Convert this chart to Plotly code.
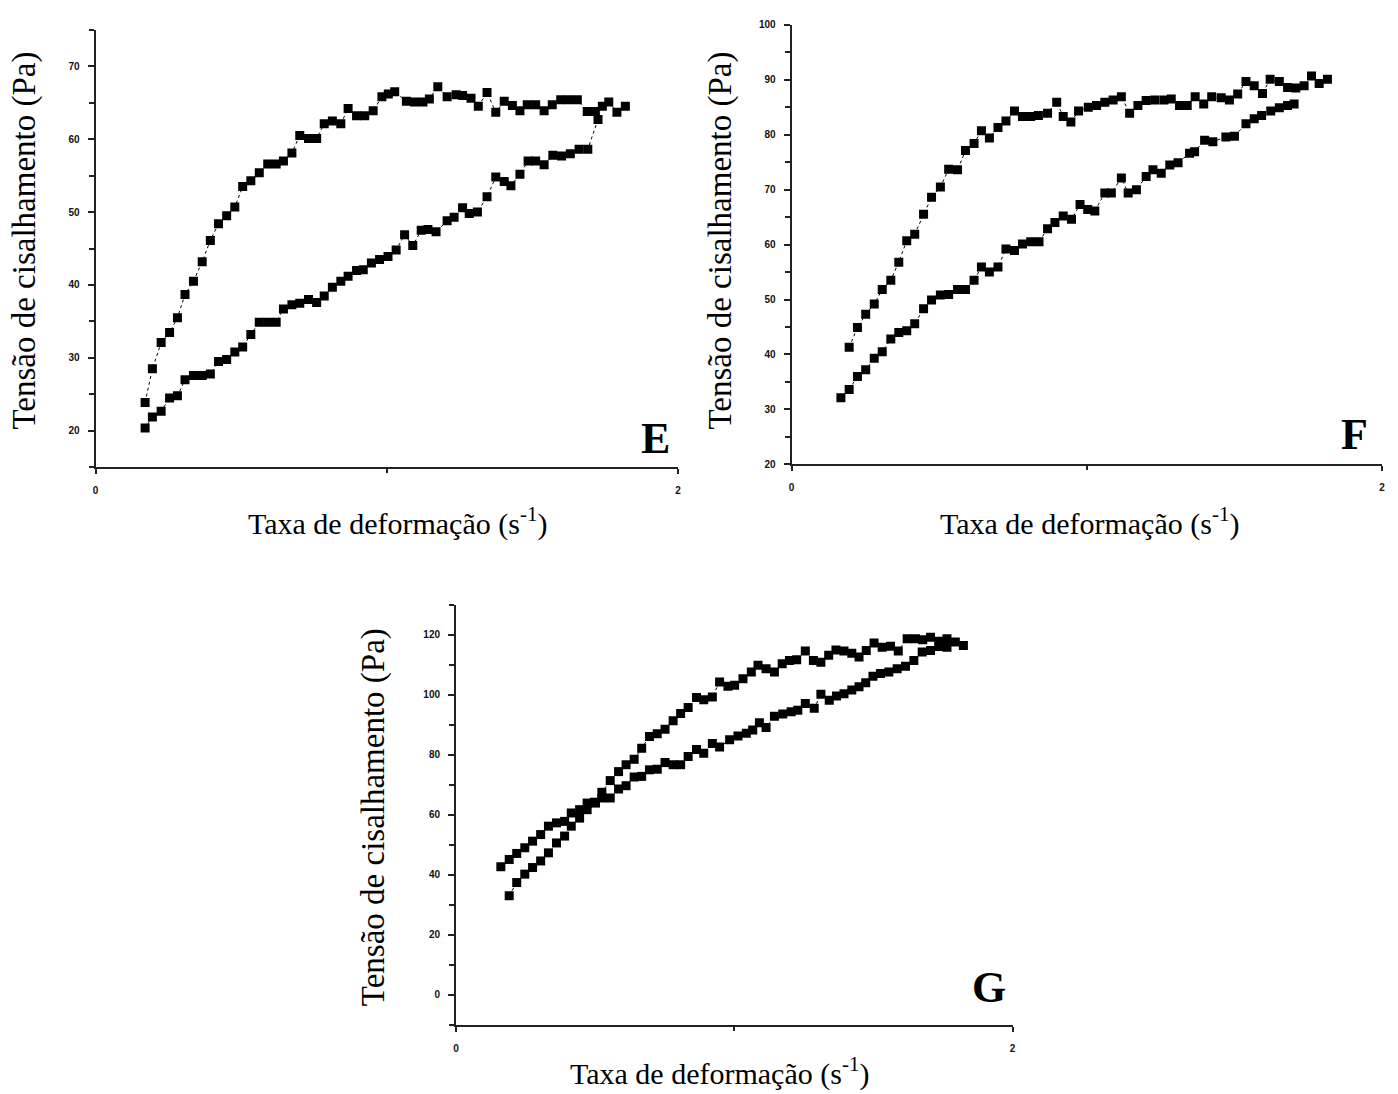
import plotly.graph_objects as go

# ---------------- Panel E ----------------
e_up_x = [0.170, 0.195, 0.225, 0.254, 0.281, 0.307, 0.336, 0.366, 0.394, 0.422,
          0.450, 0.478, 0.505, 0.533, 0.562, 0.591, 0.620, 0.645, 0.674, 0.701,
          0.731, 0.759, 0.785, 0.813, 0.842, 0.867, 0.896, 0.924, 0.953, 0.983,
          1.005, 1.027, 1.067, 1.095, 1.124, 1.146, 1.175, 1.207, 1.238, 1.260,
          1.289, 1.314, 1.344, 1.374, 1.403, 1.431, 1.457, 1.482, 1.511, 1.540,
          1.568, 1.597, 1.625, 1.654, 1.688, 1.716, 1.740, 1.762, 1.790, 1.819]
e_up_y = [23.9, 28.5, 32.1, 33.5, 35.5, 38.7, 40.5, 43.2, 46.1, 48.4,
          49.5, 50.7, 53.5, 54.3, 55.4, 56.6, 56.6, 57.0, 58.1, 60.5,
          60.1, 60.1, 62.1, 62.5, 62.1, 64.2, 63.2, 63.2, 63.9, 65.8,
          66.2, 66.5, 65.2, 65.1, 65.1, 65.5, 67.2, 65.8, 66.1, 66.0,
          65.6, 64.5, 66.4, 63.7, 65.2, 64.6, 63.9, 64.7, 64.7, 63.9,
          64.7, 65.4, 65.4, 65.4, 63.8, 63.8, 64.5, 65.1, 63.7, 64.5]
e_down_x = [1.725, 1.690, 1.660, 1.630, 1.600, 1.570, 1.540, 1.511, 1.485, 1.457,
            1.426, 1.403, 1.374, 1.344, 1.311, 1.283, 1.260, 1.231, 1.207, 1.169,
            1.141, 1.118, 1.089, 1.061, 1.032, 1.004, 0.975, 0.947, 0.919, 0.896,
            0.867, 0.842, 0.813, 0.785, 0.759, 0.731, 0.701, 0.674, 0.645, 0.620,
            0.591, 0.562, 0.533, 0.505, 0.478, 0.450, 0.422, 0.394, 0.366, 0.336,
            0.307, 0.281, 0.254, 0.225, 0.195, 0.170]
e_down_y = [62.7, 58.6, 58.6, 58.0, 57.7, 57.8, 56.5, 57.0, 57.0, 55.2,
            53.6, 54.2, 54.8, 52.1, 50.0, 49.8, 50.6, 49.3, 48.8, 47.3,
            47.6, 47.5, 45.4, 46.9, 44.8, 43.9, 43.5, 43.0, 42.1, 42.0,
            41.2, 40.5, 39.7, 38.5, 37.6, 38.0, 37.5, 37.3, 36.7, 34.9,
            34.9, 34.9, 33.2, 31.5, 30.8, 29.8, 29.5, 27.8, 27.6, 27.6,
            27.0, 24.8, 24.5, 22.7, 21.9, 20.4]

# ---------------- Panel F ----------------
f_up_x = [0.195, 0.223, 0.251, 0.280, 0.307, 0.336, 0.363, 0.390, 0.417, 0.447,
          0.474, 0.504, 0.532, 0.562, 0.589, 0.618, 0.643, 0.670, 0.699, 0.726,
          0.755, 0.782, 0.810, 0.836, 0.867, 0.898, 0.920, 0.946, 0.972, 1.005,
          1.033, 1.061, 1.089, 1.117, 1.145, 1.173, 1.201, 1.230, 1.261, 1.286,
          1.314, 1.340, 1.367, 1.396, 1.423, 1.455, 1.483, 1.511, 1.539, 1.567,
          1.595, 1.621, 1.652, 1.680, 1.708, 1.736, 1.761, 1.787, 1.815]
f_up_y = [41.3, 44.9, 47.3, 49.2, 51.8, 53.5, 56.8, 60.7, 61.9, 65.5,
          68.6, 70.5, 73.7, 73.6, 77.1, 78.4, 80.7, 79.4, 81.3, 82.5,
          84.3, 83.3, 83.3, 83.5, 83.9, 85.9, 83.3, 82.3, 84.3, 85.0,
          85.3, 85.9, 86.3, 86.9, 83.9, 85.3, 86.2, 86.3, 86.3, 86.5,
          85.3, 85.3, 86.9, 85.6, 86.9, 86.7, 86.3, 87.4, 89.7, 88.9,
          87.5, 90.1, 89.7, 88.6, 88.5, 88.9, 90.7, 89.3, 90.1]
f_down_x = [1.702, 1.680, 1.652, 1.623, 1.592, 1.567, 1.539, 1.500, 1.471, 1.427,
            1.399, 1.365, 1.348, 1.309, 1.281, 1.252, 1.224, 1.201, 1.168, 1.140,
            1.117, 1.083, 1.061, 1.027, 1.003, 0.977, 0.948, 0.920, 0.892, 0.867,
            0.838, 0.810, 0.782, 0.755, 0.726, 0.699, 0.670, 0.643, 0.618, 0.589,
            0.562, 0.532, 0.504, 0.474, 0.447, 0.417, 0.390, 0.363, 0.336, 0.307,
            0.280, 0.251, 0.223, 0.195, 0.167]
f_down_y = [85.6, 85.3, 84.9, 84.3, 83.5, 82.9, 82.0, 79.7, 79.6, 78.7,
            79.0, 76.9, 76.6, 74.9, 74.5, 73.0, 73.6, 72.4, 70.0, 69.4,
            72.1, 69.4, 69.4, 66.1, 66.4, 67.3, 64.6, 65.2, 64.0, 62.9,
            60.5, 60.5, 60.1, 58.9, 59.2, 55.9, 55.0, 55.9, 53.5, 51.8,
            51.8, 50.9, 50.8, 49.9, 48.3, 45.6, 44.3, 44.0, 42.8, 40.5,
            39.3, 37.2, 36.0, 33.6, 32.1]

# ---------------- Panel G ----------------
g_up_x = [0.191, 0.218, 0.247, 0.275, 0.304, 0.332, 0.361, 0.390, 0.414, 0.444,
          0.471, 0.497, 0.524, 0.554, 0.584, 0.611, 0.640, 0.667, 0.695, 0.723,
          0.751, 0.780, 0.807, 0.834, 0.864, 0.890, 0.921, 0.947, 0.977, 1.001,
          1.031, 1.061, 1.085, 1.114, 1.144, 1.172, 1.198, 1.224, 1.255, 1.284,
          1.311, 1.339, 1.365, 1.394, 1.422, 1.448, 1.474, 1.502, 1.531, 1.561,
          1.589, 1.621, 1.651, 1.677, 1.705, 1.735, 1.764, 1.794, 1.823]
g_up_y = [33.0, 37.4, 40.2, 42.4, 44.6, 47.3, 50.6, 52.9, 56.2, 58.9,
          61.7, 64.2, 67.5, 71.4, 74.4, 76.7, 78.5, 82.2, 86.1, 87.0,
          88.5, 91.4, 93.8, 95.8, 99.1, 98.4, 99.3, 104.3, 102.9, 103.2,
          105.4, 107.6, 109.9, 108.7, 107.6, 110.4, 111.5, 111.7, 114.6, 111.5,
          110.9, 113.2, 115.0, 114.6, 113.9, 112.6, 114.8, 117.3, 115.9, 116.2,
          114.6, 118.7, 118.7, 118.4, 119.2, 117.9, 118.7, 117.6, 116.5]
g_down_x = [1.764, 1.735, 1.705, 1.675, 1.645, 1.615, 1.585, 1.555, 1.525, 1.498,
            1.472, 1.448, 1.422, 1.394, 1.367, 1.341, 1.311, 1.287, 1.255, 1.228,
            1.204, 1.174, 1.144, 1.114, 1.090, 1.066, 1.043, 1.013, 0.983, 0.947,
            0.921, 0.890, 0.864, 0.834, 0.807, 0.780, 0.751, 0.723, 0.695, 0.667,
            0.640, 0.611, 0.584, 0.554, 0.524, 0.501, 0.471, 0.444, 0.414, 0.390,
            0.361, 0.332, 0.304, 0.275, 0.247, 0.218, 0.191, 0.161]
g_down_y = [115.9, 116.1, 114.8, 114.3, 111.5, 109.5, 108.7, 107.6, 107.1, 106.2,
            104.0, 102.7, 101.6, 100.4, 99.6, 98.2, 100.2, 95.5, 97.1, 94.9,
            94.4, 93.6, 92.9, 89.1, 90.7, 88.3, 87.2, 86.3, 85.0, 82.6,
            83.8, 80.5, 81.8, 79.4, 76.7, 76.7, 77.4, 75.2, 75.0, 72.8,
            72.6, 69.7, 68.6, 65.6, 65.6, 63.9, 63.9, 61.7, 60.6, 57.8,
            57.3, 56.2, 53.4, 51.2, 49.0, 47.1, 45.1, 42.7]

# tick settings per panel
e_yticks = [20, 30, 40, 50, 60, 70]
f_yticks = [20, 30, 40, 50, 60, 70, 80, 90, 100]
g_yticks = [0, 20, 40, 60, 80, 100, 120]
x_ticks = [0, 2]
x_ticklabels = ["0", "2"]

y_title = "Tensão de cisalhamento (Pa)"
x_title = "Taxa de deformação (s<sup>-1</sup>)"
panel_letters = ["E", "F", "G"]

W, H = 1398, 1094

def dom_x(a, b):
    return [a / W, b / W]

def dom_y(top, bottom):
    return [1 - bottom / H, 1 - top / H]

fig = go.Figure()

panels = [
    dict(up=(e_up_x, e_up_y), down=(e_down_x, e_down_y), xa="x", ya="y"),
    dict(up=(f_up_x, f_up_y), down=(f_down_x, f_down_y), xa="x2", ya="y2"),
    dict(up=(g_up_x, g_up_y), down=(g_down_x, g_down_y), xa="x3", ya="y3"),
]

for p in panels:
    for key in ("up", "down"):
        xs, ys = p[key]
        fig.add_trace(go.Scatter(
            x=xs, y=ys, xaxis=p["xa"], yaxis=p["ya"],
            mode="lines+markers",
            line=dict(color="black", width=1, dash="dot"),
            marker=dict(symbol="square", size=9, color="black"),
            showlegend=False, hoverinfo="skip"))

tickfont = dict(family="Liberation Sans", size=10, color="#111111", weight="bold")

def xaxis(domain, anchor):
    return dict(domain=domain, anchor=anchor, range=[0, 2],
                showline=True, linecolor="#222222", linewidth=2,
                showgrid=False, zeroline=False,
                tickvals=x_ticks, ticktext=x_ticklabels,
                ticks="outside", ticklen=5, tickwidth=1.5, tickcolor="#222222",
                minor=dict(dtick=1, ticks="outside", ticklen=4, tickwidth=1.5,
                           tickcolor="#222222", showgrid=False),
                tickfont=tickfont, ticklabelstandoff=8)

def yaxis(domain, anchor, rng, tickvals, minor_dtick):
    return dict(domain=domain, anchor=anchor, range=rng,
                showline=True, linecolor="#222222", linewidth=2,
                showgrid=False, zeroline=False,
                tickvals=tickvals,
                ticks="outside", ticklen=6, tickwidth=1.5, tickcolor="#222222",
                minor=dict(dtick=minor_dtick, tick0=0, ticks="outside", ticklen=5,
                           tickwidth=1.5, tickcolor="#222222", showgrid=False),
                tickfont=tickfont, ticklabelstandoff=6)

fig.update_layout(
    width=W, height=H,
    margin=dict(l=0, r=0, t=0, b=0),
    paper_bgcolor="white", plot_bgcolor="white",
    xaxis=xaxis(dom_x(93, 678), "y"),
    yaxis=yaxis(dom_y(25, 467), "x", [15, 75], e_yticks, 5),
    xaxis2=xaxis(dom_x(792, 1385), "y2"),
    yaxis2=yaxis(dom_y(20, 464), "x2", [20, 100], f_yticks, 5),
    xaxis3=xaxis(dom_x(455, 1014), "y3"),
    yaxis3=yaxis(dom_y(606, 1030), "x3", [-10, 130], g_yticks, 10),
)

title_font = dict(family="Liberation Serif", size=30, color="black")
ytitle_font = dict(family="Liberation Serif", size=33, color="black")
letter_font = dict(family="Liberation Serif", size=44, color="black", weight="bold")

annots = []
# x titles
for cx, cy in [(396, 522), (1091, 522), (720, 1077)]:
    annots.append(dict(text=x_title, x=cx / W, y=1 - cy / H, xref="paper", yref="paper",
                       showarrow=False, font=title_font, xanchor="center", yanchor="middle"))
# y titles
for cx, cy in [(22, 238), (721, 238), (372, 820)]:
    annots.append(dict(text=y_title, x=cx / W, y=1 - cy / H, xref="paper", yref="paper",
                       showarrow=False, font=ytitle_font, textangle=-90,
                       xanchor="center", yanchor="middle"))
# panel letters
for letter, (cx, cy) in zip(panel_letters, [(655, 438), (1357, 434), (990, 992)]):
    annots.append(dict(text=letter, x=cx / W, y=1 - cy / H, xref="paper", yref="paper",
                       showarrow=False, font=letter_font, xanchor="center", yanchor="middle"))

fig.update_layout(annotations=annots)

fig.write_html("out.html",
               config={"displayModeBar": False},
               post_script="document.body.style.margin='0';document.body.style.padding='0';"
                           "document.documentElement.style.overflow='hidden';")
